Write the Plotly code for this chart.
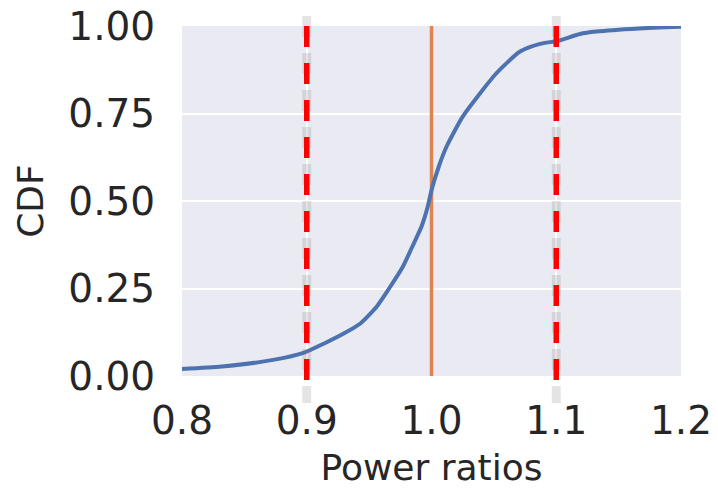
import plotly.graph_objects as go

# ---- data ----
ratio = [0.800, 0.832, 0.873, 0.898, 0.914, 0.930, 0.943, 0.956, 0.966, 0.977,
         0.984, 0.992, 0.997, 1.000, 1.006, 1.012, 1.025, 1.039, 1.052, 1.071,
         1.087, 1.102, 1.119, 1.132, 1.166, 1.200]
cdf = [0.020, 0.027, 0.046, 0.067, 0.093, 0.122, 0.150, 0.198, 0.250, 0.312,
       0.365, 0.427, 0.484, 0.531, 0.600, 0.655, 0.741, 0.808, 0.865, 0.927,
       0.949, 0.958, 0.977, 0.984, 0.993, 0.998]
ideal_ratio = [1.0]
tolerance_bounds = [0.9, 1.1]
x_ticks = [0.8, 0.9, 1.0, 1.1, 1.2]
y_ticks = [0.0, 0.25, 0.5, 0.75, 1.0]

BLUE = "#4C72B0"
ORANGE = "#DD8452"
TEXT = "#262626"
FONT = "DejaVu Sans"

fig = go.Figure()

# orange reference line at ratio 1.0 (under the curve)
for xv in ideal_ratio:
    fig.add_trace(go.Scatter(x=[xv, xv], y=[0, 1], mode="lines",
                             line=dict(color=ORANGE, width=3.5),
                             hoverinfo="skip", showlegend=False))

# empirical CDF
fig.add_trace(go.Scatter(x=ratio, y=cdf, mode="lines",
                         line=dict(color=BLUE, width=4, shape="spline", smoothing=0.6),
                         showlegend=False))

# red dashed tolerance lines with a soft grey "shadow"
px_unit = 1 / 350.0
shapes = []
for xv in tolerance_bounds:
    shapes.append(dict(type="line", xref="x", yref="paper",
                       x0=xv, x1=xv, y0=1 + 10 * px_unit, y1=-17 * px_unit - 10 * px_unit,
                       line=dict(color="rgba(120,120,120,0.20)", width=9, dash="21px,16px"),
                       layer="above"))
    shapes.append(dict(type="line", xref="x", yref="paper",
                       x0=xv, x1=xv, y0=1, y1=-17 * px_unit,
                       line=dict(color="#FF0000", width=5.5, dash="21px,16px"),
                       layer="above"))

fig.update_layout(
    width=718, height=488,
    margin=dict(l=182, r=37, t=26, b=112, pad=0),
    paper_bgcolor="white",
    plot_bgcolor="#EAEAF2",
    font=dict(family=FONT, color=TEXT, size=39),
    shapes=shapes,
    showlegend=False,
)
fig.update_xaxes(
    range=[0.8, 1.2], tickvals=x_ticks, tickformat=".1f",
    showgrid=True, gridcolor="white", gridwidth=2, zeroline=False,
    showline=False, ticks="outside", ticklen=10, tickcolor="rgba(0,0,0,0)",
    tickfont=dict(size=39, family=FONT, color=TEXT),
    title=dict(text="Power ratios", font=dict(size=36, family=FONT, color=TEXT), standoff=22),
    automargin=False,
)
fig.update_yaxes(
    range=[0, 1], tickvals=y_ticks, tickformat=".2f",
    showgrid=True, gridcolor="white", gridwidth=2, zeroline=False,
    showline=False, ticks="outside", ticklen=18, tickcolor="rgba(0,0,0,0)",
    tickfont=dict(size=39, family=FONT, color=TEXT),
    title=dict(text="CDF", font=dict(size=36, family=FONT, color=TEXT), standoff=13),
    automargin=False,
)

fig.write_html("out.html", config={"displayModeBar": False},
               post_script="document.body.style.margin='0px';")
